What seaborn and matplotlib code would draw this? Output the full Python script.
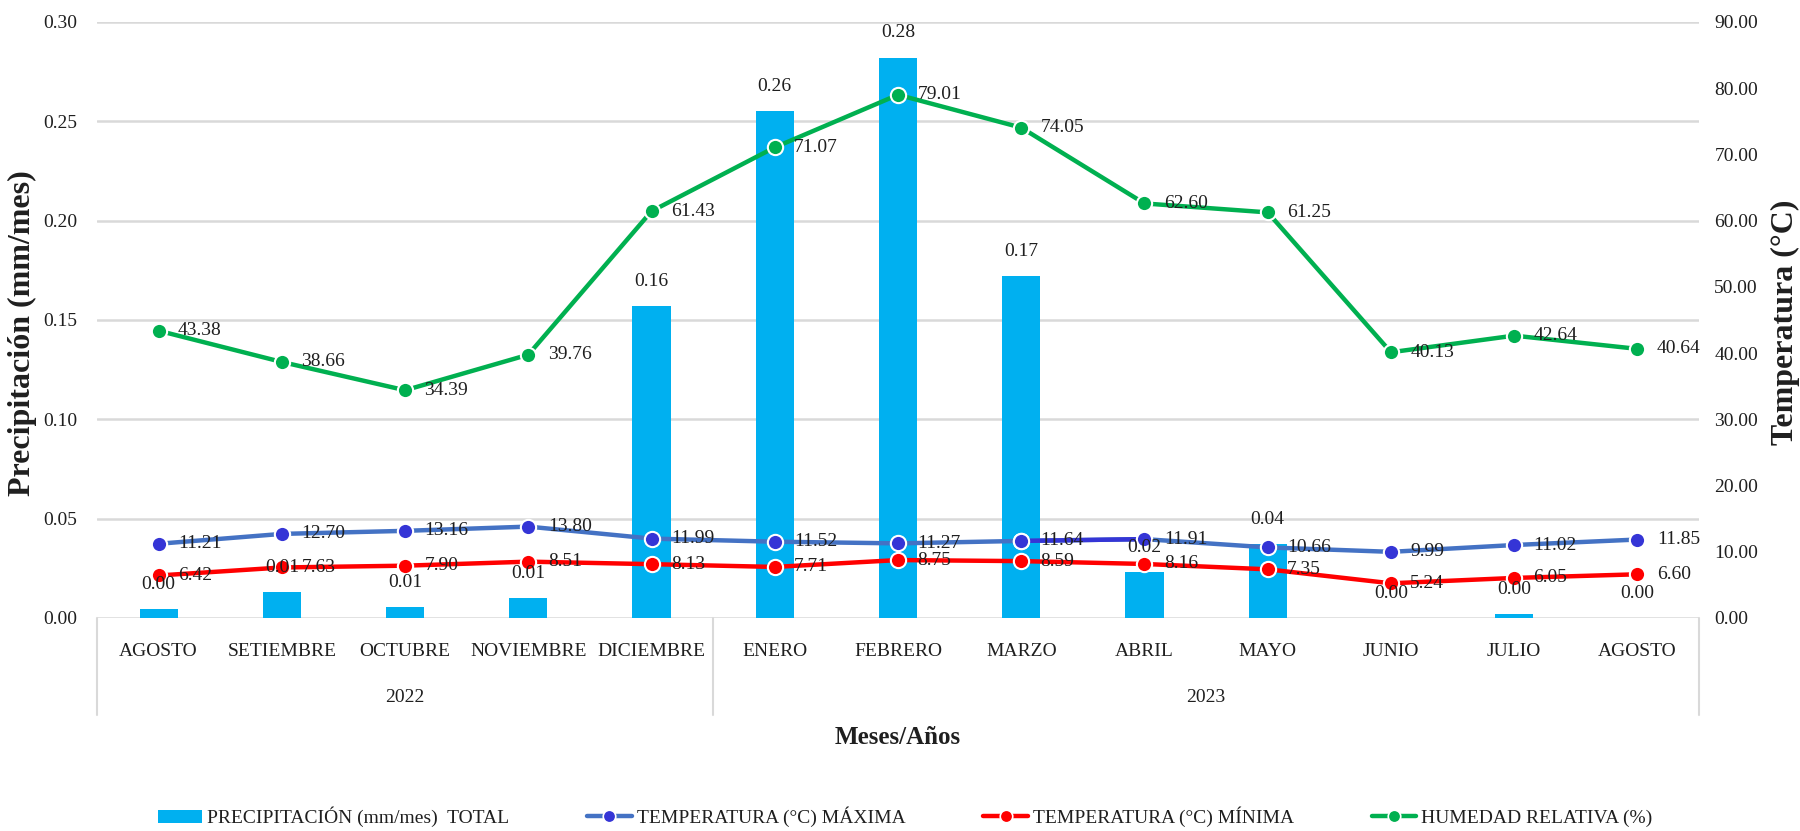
import numpy as np
import pandas as pd
import matplotlib
matplotlib.use("Agg")
import matplotlib.pyplot as plt
import matplotlib.transforms as mtransforms
from matplotlib.lines import Line2D
from matplotlib.patches import Patch
from matplotlib.ticker import FormatStrFormatter
import seaborn as sns

# ---------------- data ----------------
months = ["AGOSTO", "SETIEMBRE", "OCTUBRE", "NOVIEMBRE", "DICIEMBRE", "ENERO",
          "FEBRERO", "MARZO", "ABRIL", "MAYO", "JUNIO", "JULIO", "AGOSTO"]
years = ["2022", "2023"]
months_per_year = [5, 8]
precip = [0.0045, 0.013, 0.0055, 0.010, 0.157, 0.255, 0.282, 0.172, 0.023, 0.037, 0.000, 0.002, 0.000]
tmax = [11.21, 12.70, 13.16, 13.80, 11.99, 11.52, 11.27, 11.64, 11.91, 10.66, 9.99, 11.02, 11.85]
tmin = [6.42, 7.63, 7.90, 8.51, 8.13, 7.71, 8.75, 8.59, 8.16, 7.35, 5.24, 6.05, 6.60]
hum = [43.38, 38.66, 34.39, 39.76, 61.43, 71.07, 79.01, 74.05, 62.60, 61.25, 40.13, 42.64, 40.64]

left_ticks = [0.00, 0.05, 0.10, 0.15, 0.20, 0.25, 0.30]
right_ticks = [0, 10, 20, 30, 40, 50, 60, 70, 80, 90]

lbl_precip = "PRECIPITACIÓN (mm/mes)  TOTAL"
lbl_tmax = "TEMPERATURA (°C) MÁXIMA"
lbl_tmin = "TEMPERATURA (°C) MÍNIMA"
lbl_hum = "HUMEDAD RELATIVA (%)"

df = pd.DataFrame({"idx": np.arange(len(months)), "month": months, "precip": precip,
                   "tmax": tmax, "tmin": tmin, "hum": hum})

# ---------------- style ----------------
sns.set_theme(style="white")
plt.rcParams["font.family"] = ["Liberation Serif", "DejaVu Serif"]
TXT = "#1f1f1f"
GRID = "#D9D9D9"
C_BAR = "#00B0F0"
C_TMAX = "#4472C4"
C_TMAX_M = "#3535D6"
C_TMIN = "#FF0000"
C_HUM = "#00B050"
FS = 14
MS = 11

fig = plt.figure(figsize=(18, 8.31), dpi=100)
ax = fig.add_axes([97 / 1800, 1 - 618 / 831, 1602 / 1800, 596 / 831])

sns.barplot(data=df, x="idx", y="precip", ax=ax, color=C_BAR, saturation=1,
            width=0.31, edgecolor="none", zorder=2)
ax.set_xlim(-0.5, len(months) - 0.5)
ax.set_ylim(0, 0.30)
ax.set_yticks(left_ticks)
ax.yaxis.set_major_formatter(FormatStrFormatter("%.2f"))
ax.grid(axis="y", color=GRID, lw=1.8)
ax.grid(axis="x", visible=False)
ax.set_axisbelow(True)
ax.set_xticks(range(len(months)))
ax.set_xticklabels(months)
ax.tick_params(axis="x", length=0, pad=18, labelsize=FS, labelcolor=TXT)
ax.tick_params(axis="y", length=0, pad=14, labelsize=FS, labelcolor=TXT)
ax.set_xlabel("")
ax.set_ylabel("")
for s in ax.spines.values():
    s.set_visible(False)

ax2 = ax.twinx()
ax2.set_ylim(0, 90)
ax2.set_yticks(right_ticks)
ax2.yaxis.set_major_formatter(FormatStrFormatter("%.2f"))
ax2.tick_params(axis="y", length=0, pad=11, labelsize=FS, labelcolor=TXT)
ax2.grid(False)
for s in ax2.spines.values():
    s.set_visible(False)

line_kw = dict(lw=3.2, marker="o", markersize=MS, markeredgecolor="white",
               markeredgewidth=1.5, legend=False)
sns.lineplot(data=df, x="idx", y="tmax", ax=ax2, color=C_TMAX,
             markerfacecolor=C_TMAX_M, zorder=3, **line_kw)
# darker segment between MARZO and ABRIL
sns.lineplot(data=df.iloc[7:9], x="idx", y="tmax", ax=ax2, color=C_TMAX_M,
             lw=3.2, legend=False, zorder=3.1)
sns.lineplot(data=df.iloc[7:9], x="idx", y="tmax", ax=ax2, color=C_TMAX_M,
             lw=0, marker="o", markersize=MS, markerfacecolor=C_TMAX_M,
             markeredgecolor="white", markeredgewidth=1.5, legend=False, zorder=3.2)
sns.lineplot(data=df, x="idx", y="tmin", ax=ax2, color=C_TMIN,
             markerfacecolor=C_TMIN, zorder=4, **line_kw)
sns.lineplot(data=df, x="idx", y="hum", ax=ax2, color=C_HUM,
             markerfacecolor=C_HUM, zorder=5, **line_kw)
ax2.set_xlim(-0.5, len(months) - 0.5)
ax2.set_xlabel("")
ax2.set_ylabel("")

# data labels for lines
for series in (tmax, tmin, hum):
    for i, v in enumerate(series):
        ax2.annotate(f"{v:.2f}", (i, v), xytext=(14, 0), textcoords="offset points",
                     ha="left", va="center", fontsize=FS, color=TXT, zorder=10)
# data labels for bars
for i, p in enumerate(precip):
    ax2.annotate(f"{p:.2f}", (i, p), xycoords=ax.transData, xytext=(0, 18),
                 textcoords="offset points", ha="center", va="center",
                 fontsize=FS, color=TXT, zorder=10)

# year brackets
trans = mtransforms.blended_transform_factory(ax.transData, ax.transAxes)
bounds = [-0.5] + list(np.cumsum(months_per_year) - 0.5)
for b in bounds:
    ax.plot([b, b], [0, -97 / 596], transform=trans, color=GRID, lw=1.5, clip_on=False)
for k, yr in enumerate(years):
    c = (bounds[k] + bounds[k + 1]) / 2
    ax.text(c, -80 / 596, yr, transform=trans, ha="center", va="center",
            fontsize=FS, color=TXT)

# axis titles
ax.text(0.5, -(737 - 618) / 596, "Meses/Años", transform=ax.transAxes, ha="center",
        va="center", fontsize=18, fontweight="bold", color=TXT)
fig.text(22 / 1800, 1 - 333 / 831, "Precipitación (mm/mes)", rotation=90, ha="center",
         va="center", fontsize=23, fontweight="bold", color=TXT)
fig.text(1785 / 1800, 1 - 322 / 831, "Temperatura (°C)", rotation=90, ha="center",
         va="center", fontsize=23, fontweight="bold", color=TXT)

# legend
handles = [
    Patch(facecolor=C_BAR, edgecolor="none"),
    Line2D([], [], color=C_TMAX, lw=3.2, marker="o", ms=9, markerfacecolor=C_TMAX_M,
           markeredgecolor="white", markeredgewidth=1.2),
    Line2D([], [], color=C_TMIN, lw=3.2, marker="o", ms=9, markerfacecolor=C_TMIN,
           markeredgecolor="white", markeredgewidth=1.2),
    Line2D([], [], color=C_HUM, lw=3.2, marker="o", ms=9, markerfacecolor=C_HUM,
           markeredgecolor="white", markeredgewidth=1.2),
]
fig.legend(handles, [lbl_precip, lbl_tmax, lbl_tmin, lbl_hum], loc="center",
           bbox_to_anchor=(905 / 1800, 1 - 817 / 831), ncol=4, frameon=False,
           fontsize=FS, handlelength=2.3, handletextpad=0.25, columnspacing=4.0,
           labelcolor=TXT)

fig.savefig("out.png", dpi=100)
